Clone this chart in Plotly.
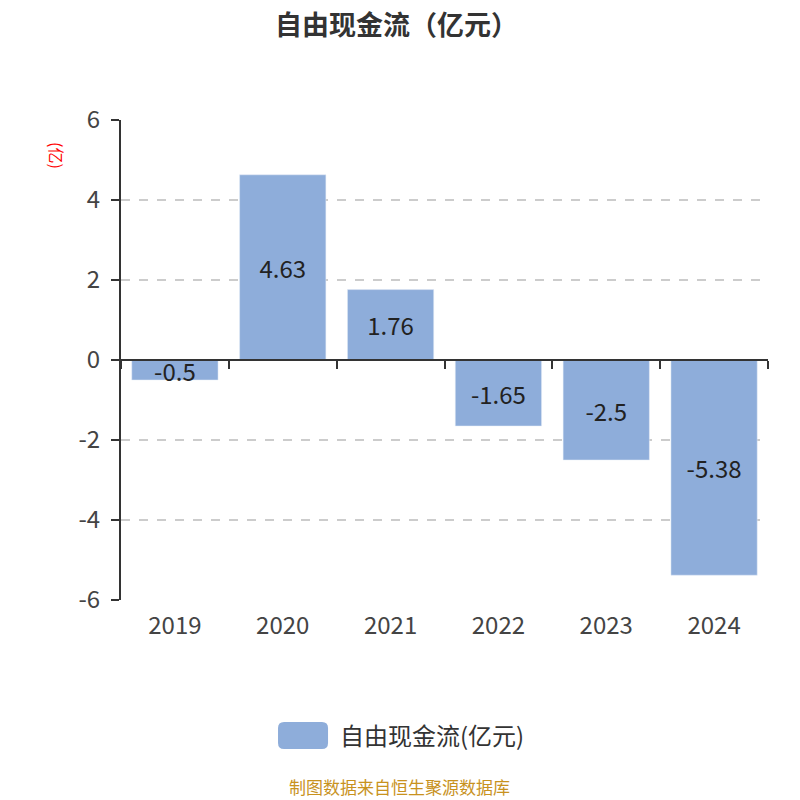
import plotly.graph_objects as go

years = ['2019', '2020', '2021', '2022', '2023', '2024']
free_cash_flow = [-0.5, 4.63, 1.76, -1.65, -2.5, -5.38]
bar_labels = ['-0.5', '4.63', '1.76', '-1.65', '-2.5', '-5.38']
y_ticks = [-6, -4, -2, 0, 2, 4, 6]
y_tick_text = ['-6', '-4', '-2', '0', '2', '4', '6']

fig = go.Figure()
fig.add_trace(go.Bar(
    x=years, y=free_cash_flow, name='自由现金流(亿元)', showlegend=False,
    marker=dict(color='#8EADDA'), width=0.8,
    text=bar_labels, textposition='inside', insidetextanchor='middle',
    constraintext='none', textangle=0,
    insidetextfont=dict(size=24, color='#222'),
))

# zero axis with boundary ticks
fig.add_trace(go.Scatter(x=[-0.5, 5.5], y=[0, 0], xaxis='x2', mode='lines',
                         line=dict(color='rgba(0,0,0,0)'), showlegend=False, hoverinfo='skip'))

# page body has an 8px margin, so the figure is 792 and margins are shifted
fig.update_layout(
    width=792, height=792,
    margin=dict(l=113, r=32, t=112, b=200),
    plot_bgcolor='white', paper_bgcolor='white',
    font=dict(family='Noto Sans CJK SC', color='#333'),
    xaxis=dict(showline=False, ticks='', tickfont=dict(size=24, color='#444'), showgrid=False,
               zeroline=False, ticklabelstandoff=9),
    xaxis2=dict(overlaying='x', anchor='free', position=0.5, range=[-0.5, 5.5],
                tickvals=[-0.5, 0.5, 1.5, 2.5, 3.5, 4.5, 5.5], ticks='outside', ticklen=8,
                tickcolor='#333', tickwidth=2, showticklabels=False, showline=True,
                linecolor='#333', linewidth=2, showgrid=False, zeroline=False),
    yaxis=dict(range=[-6, 6], tickvals=y_ticks, ticktext=y_tick_text, ticks='outside', ticklen=8,
               tickcolor='#333', tickwidth=2, showline=True, linecolor='#333', linewidth=2,
               tickfont=dict(size=24, color='#444'), ticklabelstandoff=6,
               showgrid=True, gridcolor='#ccc', griddash='dash', gridwidth=1.5, zeroline=False),
    uniformtext=dict(minsize=24, mode='show'),
)

# title as annotation
fig.add_annotation(text='<b>自由现金流（亿元）</b>', x=0.426, y=1.202, xref='paper', yref='paper',
                   showarrow=False, xanchor='center', yanchor='middle',
                   font=dict(size=27, color='#333'))

# legend drawn as rounded swatch + label
x0, x1, y0, y1 = 0.2427, 0.32, -0.2540, -0.3104
rx, ry = 0.0093, 0.0125
path = (f'M {x0+rx},{y0} L {x1-rx},{y0} Q {x1},{y0} {x1},{y0-ry} L {x1},{y1+ry} '
        f'Q {x1},{y1} {x1-rx},{y1} L {x0+rx},{y1} Q {x0},{y1} {x0},{y1+ry} '
        f'L {x0},{y0-ry} Q {x0},{y0} {x0+rx},{y0} Z')
fig.add_shape(type='path', path=path, xref='paper', yref='paper',
              fillcolor='#8EADDA', line=dict(width=0))
fig.add_annotation(text='自由现金流(亿元)', x=0.3354, y=-0.281, xref='paper', yref='paper',
                   showarrow=False, xanchor='left', yanchor='middle',
                   font=dict(size=24, color='#333'))

fig.add_annotation(text='(亿)', x=-0.099, y=0.925, xref='paper', yref='paper', showarrow=False,
                   xanchor='center', yanchor='middle',
                   textangle=90, font=dict(size=16, color='red'))
fig.add_annotation(text='制图数据来自恒生聚源数据库', x=0.431, y=-0.388, xref='paper', yref='paper',
                   showarrow=False, xanchor='center', yanchor='middle',
                   font=dict(size=17, color='#C8921E'))

fig.write_html('out.html')
